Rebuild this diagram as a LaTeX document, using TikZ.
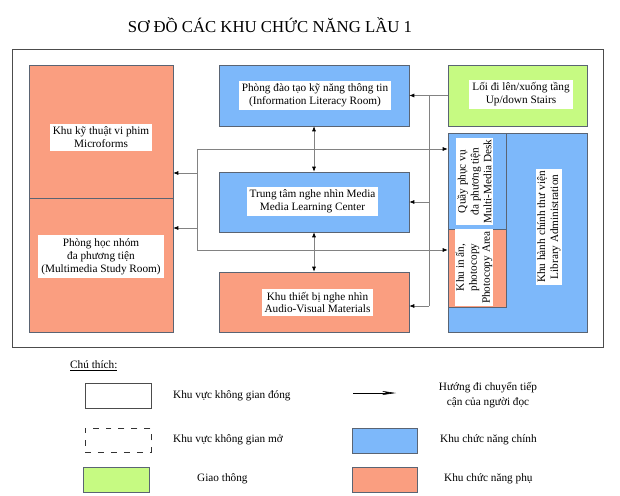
\documentclass[tikz,border=0pt]{standalone}
\usepackage{fontspec}
\setmainfont{Liberation Serif}
\usetikzlibrary{arrows.meta,calc}
\definecolor{mainblue}{RGB}{125,184,250}
\definecolor{subsalmon}{RGB}{250,158,128}
\definecolor{trafgreen}{RGB}{198,250,130}
\definecolor{edgegray}{RGB}{90,100,115}
\definecolor{conngray}{RGB}{130,130,130}
\tikzset{
  area/.style={draw=edgegray, line width=0.6pt, inner sep=0pt},
  bluearea/.style={area, fill=mainblue},
  salmonarea/.style={area, fill=subsalmon},
  greenarea/.style={area, fill=trafgreen},
  label/.style={fill=white, inner xsep=3pt, inner ysep=3pt, align=center,
    font=\fontsize{11.3}{13}\selectfont},
  legtext/.style={inner sep=0pt, anchor=west, align=center, font=\fontsize{11.3}{14}\selectfont},
  conn/.style={draw=conngray, line width=0.6pt},
  arr/.style={conn, -{Latex[length=5pt,width=4pt,color=black]}},
  darr/.style={conn, {Latex[length=5pt,width=4pt,color=black]}-{Latex[length=5pt,width=4pt,color=black]}},
}
\begin{document}
\begin{tikzpicture}[x=1bp,y=-1bp]
\useasboundingbox (0,0) rectangle (620,496);
% title
\node[inner sep=0pt, font=\fontsize{16.8}{20}\selectfont] (title) at (270,25) {SƠ ĐỒ CÁC KHU CHỨC NĂNG LẦU 1};
% frame
\node[draw=black!70, line width=0.8pt, minimum width=591bp, minimum height=298bp, inner sep=0pt] (frame) at (307.5,198) {};
% left column
\node[salmonarea, minimum width=144bp, minimum height=133bp] (lu) at (101,131.5) {};
\node[salmonarea, minimum width=144bp, minimum height=134bp] (ll) at (101,265) {};
\node[label] (lut) at (101,137.5) {Khu kỹ thuật vi phim\\Microforms};
\node[label] (llt) at (101,256.5) {Phòng học nhóm\\đa phương tiện\\(Multimedia Study Room)};
% middle column
\node[bluearea, minimum width=190bp, minimum height=61bp] (top) at (314,95.5) {};
\node[bluearea, minimum width=190bp, minimum height=60bp] (mid) at (314,202) {};
\node[salmonarea, minimum width=190bp, minimum height=60bp] (bot) at (314,302) {};
\node[label] (topt) at (315,95.5) {Phòng đào tạo kỹ năng thông tin\\(Information Literacy Room)};
\node[label] (midt) at (312.5,201.5) {Trung tâm nghe nhìn Media\\Media Learning Center};
\node[label] (bott) at (317.5,302.5) {Khu thiết bị nghe nhìn\\Audio-Visual Materials};
% right column
\node[greenarea, minimum width=139bp, minimum height=61bp] (stairs) at (517.5,95.5) {};
\node[label] (stairst) at (521,94.5) {Lối đi lên/xuống tầng\\Up/down Stairs};
\node[bluearea, minimum width=139bp, minimum height=199bp] (admin) at (517.5,232.5) {};
\node[bluearea, minimum width=58bp, minimum height=96bp] (desk) at (477,181) {};
\node[salmonarea, minimum width=58bp, minimum height=78bp] (copy) at (477,268) {};
\node[label, rotate=90, inner xsep=2pt, inner ysep=1pt] (deskt) at (474.5,181.5) {Quầy phục vụ\\đa phương tiện\\Multi-Media Desk};
\node[label, rotate=90, inner xsep=2pt, inner ysep=1pt] (copyt) at (474,267.5) {Khu in ấn,\\photocopy\\Photocopy Area};
\node[label, rotate=90, inner xsep=2pt, inner ysep=1pt] (admint) at (549,227) {Khu hành chính thư viện\\Library Administration};
% connectors: right trunk
\coordinate (rj1) at (429,95.5);
\coordinate (rj2) at (429,202);
\coordinate (rj3) at (429,306);
\draw[conn] (stairs.west) -- (rj1) -- (rj3);
\draw[arr] (rj1) -- (top.east);
\draw[arr] (rj2) -- (mid.east);
\draw[arr] (rj3) -- (bot.east |- rj3);
% connectors: left bracket
\coordinate (lj1) at (197,149);
\coordinate (lj2) at (197,250);
\coordinate (lj3) at (197,173);
\coordinate (lj4) at (197,228);
\draw[conn] (lj1) -- (lj2);
\draw[arr] (lj1) -- (desk.west |- lj1);
\draw[arr] (lj2) -- (copy.west |- lj2);
\draw[arr] (lj3) -- (lu.east |- lj3);
\draw[arr] (lj4) -- (ll.east |- lj4);
% vertical double arrows
\draw[darr] (top.south) -- (mid.north);
\draw[darr] (mid.south) -- (bot.north);
% legend
\node[inner sep=0pt, anchor=west, font=\fontsize{11.3}{13}\selectfont] (legtitle) at (70,366) {\underline{Chú thích:}};
\node[draw=black!70, line width=0.8pt, fill=white, minimum width=66bp, minimum height=25bp, inner sep=0pt] (lg1) at (118,395.5) {};
\node[legtext] (lg1t) at (173,396) {Khu vực không gian đóng};
\node[draw=black!80, line width=0.8pt, dash pattern=on 6pt off 7pt, dash phase=0pt, minimum width=66bp, minimum height=24bp, inner sep=0pt] (lg2) at (118,440) {};
\node[legtext] (lg2t) at (173,440) {Khu vực không gian mở};
\node[greenarea, minimum width=66bp, minimum height=25bp] (lg3) at (116,479.5) {};
\node[legtext] (lg3t) at (197,479) {Giao thông};
\coordinate (la1) at (353,393);
\coordinate (la2) at (396,393);
\draw[draw=black, line width=0.6pt, -{Stealth[length=14pt,width=4pt]}] (la1) -- (la2);
\node[inner sep=0pt, align=center, font=\fontsize{11.3}{15}\selectfont] (lg4t) at (488,395) {Hướng đi chuyển tiếp\\cận của người đọc};
\node[bluearea, minimum width=65bp, minimum height=25bp] (lg5) at (384.5,440.5) {};
\node[legtext] (lg5t) at (440,440) {Khu chức năng chính};
\node[salmonarea, minimum width=65bp, minimum height=25bp] (lg6) at (384.5,479.5) {};
\node[legtext] (lg6t) at (444,479) {Khu chức năng phụ};
\end{tikzpicture}
\end{document}
